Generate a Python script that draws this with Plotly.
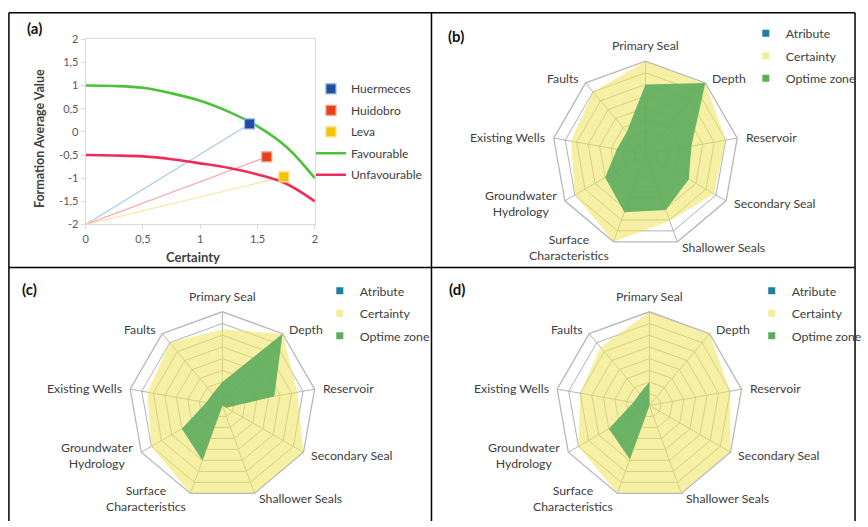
import math
import plotly.graph_objects as go

W, H = 868, 527
FONT = "Lato"

# ---------- panel (a): certainty vs formation average value ----------
curve_x = [0, 0.25, 0.5, 0.75, 1.0, 1.25, 1.5, 1.75, 2.0]
favourable_y = [1.0, 0.99, 0.95, 0.83, 0.67, 0.43, 0.12, -0.32, -1.0]
unfavourable_y = [-0.5, -0.51, -0.53, -0.59, -0.68, -0.78, -0.92, -1.12, -1.5]

formations = ["Huermeces", "Huidobro", "Leva"]
formation_certainty = [1.43, 1.58, 1.73]
formation_value = [0.17, -0.54, -0.97]
formation_fill = ["#1F4E9A", "#E8401C", "#F5C400"]
formation_edge = ["#8DB4E2", "#F4A582", "#FFE08A"]
connector_color = ["#A9CBE8", "#F6A5AE", "#FCE39A"]
origin_x, origin_y = 0.0, -2.0

y_ticks = [-2, -1.5, -1, -0.5, 0, 0.5, 1, 1.5, 2]
y_tick_text = ["-2", "-1,5", "-1", "-0,5", "0", "0,5", "1", "1,5", "2"]
x_ticks = [0, 0.5, 1, 1.5, 2]
x_tick_text = ["0", "0,5", "1", "1,5", "2"]

# ---------- panels (b), (c), (d): radar charts ----------
attributes = ["Primary Seal", "Depth", "Reservoir", "Secondary Seal",
              "Shallower Seals", "Surface<br>Characteristics",
              "Groundwater<br>Hydrology", "Existing Wells", "Faults"]

certainty_b = [2.0, 2.0, 1.5, 1.4, 1.05, 2.0, 1.5, 1.25, 1.5]
optime_b = [1.0, 2.0, 0.0, 0.15, 0.55, 0.65, 0.0, -0.75, -0.75]

certainty_c = [1.25, 2.0, 1.25, 2.0, 2.0, 2.0, 1.5, 1.25, 1.5]
optime_c = [-1.0, 2.0, 0.25, -1.8, -2.0, 0.5, 0.0, -1.3, -1.35]

certainty_d = [2.0, 2.0, 1.5, 2.0, 2.0, 2.0, 1.5, 1.0, 1.25]
optime_d = [-1.0, -2.0, -2.0, -2.0, -2.0, 0.45, 0.0, -1.3, -1.35]

atribute_vals = [-2.0] * 9

radar_series = ["Atribute", "Certainty", "Optime zone"]
radar_legend_color = ["#1F7F9F", "#F3EE9A", "#5CAE5C"]

fig = go.Figure()


def px_x(v):
    return v / W


def px_y(v):
    return 1 - v / H


# connectors from the origin to each formation
for name, cx, cy, col in zip(formations, formation_certainty, formation_value, connector_color):
    fig.add_trace(go.Scatter(x=[origin_x, cx], y=[origin_y, cy], mode="lines",
                             line=dict(color=col, width=1.2), showlegend=False,
                             hoverinfo="skip", xaxis="x", yaxis="y"))

# favourable / unfavourable curves
fig.add_trace(go.Scatter(x=curve_x, y=favourable_y, mode="lines", name="Favourable",
                         line=dict(color="#4CC23A", width=2.6, shape="spline"),
                         legend="legend", legendgroup="fav", legendrank=4))
fig.add_trace(go.Scatter(x=curve_x, y=unfavourable_y, mode="lines", name="Unfavourable",
                         line=dict(color="#EF2D5A", width=2.6, shape="spline"),
                         legend="legend", legendgroup="unfav", legendrank=5))

for i, (name, cx, cy) in enumerate(zip(formations, formation_certainty, formation_value)):
    fig.add_trace(go.Scatter(x=[cx], y=[cy], mode="markers", name=name,
                             marker=dict(symbol="square", size=10, color=formation_fill[i],
                                         line=dict(color=formation_edge[i], width=1.2)),
                             legend="legend", legendgroup=name, legendrank=i + 1))

# radar panels: (subplot, legend, centre x, centre y, radius, certainty, optime)
radar_panels = [
    ("polar", "legend2", 653, 151, 95.5, certainty_b, optime_b),
    ("polar2", "legend3", 223, 408.5, 96, certainty_c, optime_c),
    ("polar3", "legend4", 657, 408.5, 96, certainty_d, optime_d),
]
for subplot, leg, _, _, _, cert, opt in radar_panels:
    theta = attributes + attributes[:1]
    fig.add_trace(go.Scatterpolar(r=cert + cert[:1], theta=theta, subplot=subplot,
                                  fill="toself", fillcolor="rgba(238,230,97,0.58)",
                                  mode="lines", line=dict(width=0), showlegend=False,
                                  hoverinfo="skip"))
    fig.add_trace(go.Scatterpolar(r=opt + opt[:1], theta=theta, subplot=subplot,
                                  fill="toself", fillcolor="rgba(88,170,92,0.87)",
                                  mode="lines", line=dict(width=0), showlegend=False,
                                  hoverinfo="skip"))
    fig.add_trace(go.Scatterpolar(r=atribute_vals + atribute_vals[:1], theta=theta,
                                  subplot=subplot, mode="lines",
                                  line=dict(width=0, color=radar_legend_color[0]),
                                  showlegend=False, hoverinfo="skip"))
    # legend entries
    for k, s in enumerate(radar_series):
        fig.add_trace(go.Scatterpolar(r=[None], theta=[None], subplot=subplot, name=s,
                                      mode="markers",
                                      marker=dict(symbol="square", size=7,
                                                  color=radar_legend_color[k]),
                                      legend=leg, legendgroup=f"{leg}{k}"))


def polar_layout(cx, cy, rad):
    return dict(
        domain=dict(x=[px_x(cx - rad), px_x(cx + rad)], y=[px_y(cy + rad), px_y(cy - rad)]),
        gridshape="linear",
        bgcolor="white",
        radialaxis=dict(range=[-2, 2], tick0=-2, dtick=0.5, showticklabels=False,
                        ticks="", showline=False, gridcolor="#B4B4B4", gridwidth=1),
        angularaxis=dict(rotation=90, direction="clockwise", showline=True,
                         linecolor="#B8B8B8", linewidth=1.3, gridcolor="#B4B4B4",
                         ticks="", showticklabels=False),
    )


legend_common = dict(bgcolor="rgba(0,0,0,0)", borderwidth=0, traceorder="grouped",
                     xanchor="left", yanchor="top", itemclick=False)
radar_legend_font = dict(family=FONT, size=12.3, color="#404040")

fig.update_layout(
    width=W, height=H,
    margin=dict(l=0, r=0, t=0, b=0),
    paper_bgcolor="white", plot_bgcolor="white",
    font=dict(family=FONT, color="#404040"),
    xaxis=dict(domain=[px_x(84), px_x(317)], range=[0, 2], tickvals=x_ticks,
               ticktext=x_tick_text, showgrid=False, zeroline=False, showline=True,
               mirror=True, linecolor="#D9D9D9", ticks="outside", ticklen=4,
               tickcolor="#D9D9D9", tickfont=dict(family=FONT, size=11, color="#595959")),
    yaxis=dict(domain=[px_y(223), px_y(33)], range=[-2, 2], tickvals=y_ticks,
               ticktext=y_tick_text, showgrid=False, zeroline=False, showline=True,
               mirror=True, linecolor="#D9D9D9", ticks="outside", ticklen=4,
               tickcolor="#D9D9D9", tickfont=dict(family=FONT, size=11, color="#595959")),
    polar=polar_layout(653, 151, 95.5),
    polar2=polar_layout(223, 408.5, 96),
    polar3=polar_layout(657, 408.5, 96),
    legend=dict(x=px_x(313), y=px_y(69), tracegroupgap=2.5,
                font=dict(family=FONT, size=12, color="#404040"), **legend_common),
    legend2=dict(x=px_x(755), y=px_y(12), tracegroupgap=3.5, font=radar_legend_font,
                 **legend_common),
    legend3=dict(x=px_x(322), y=px_y(276), tracegroupgap=3.5, font=radar_legend_font,
                 **legend_common),
    legend4=dict(x=px_x(761), y=px_y(276), tracegroupgap=3.5, font=radar_legend_font,
                 **legend_common),
)

# category labels placed just outside each vertex of the radar polygons
label_pad = 6
for _, _, cx, cy, rad, _, _ in radar_panels:
    n = len(attributes)
    for i, lab in enumerate(attributes):
        ang = 2 * math.pi * i / n
        sx, cyv = math.sin(ang), math.cos(ang)
        lx = cx + (rad + label_pad) * sx
        ly = cy - (rad + label_pad) * cyv
        if sx > 0.1:
            xa, ya = "left", "middle"
        elif sx < -0.1:
            xa, ya = "right", "middle"
        else:
            xa, ya = "center", "bottom"
        fig.add_annotation(text=lab, xref="paper", yref="paper", x=px_x(lx), y=px_y(ly),
                           xanchor=xa, yanchor=ya, showarrow=False, align="center",
                           font=dict(family=FONT, size=12.3, color="#404040"))

# panel letters and axis titles
letters = [("(a)", 22, 22), ("(b)", 450, 30), ("(c)", 17, 289), ("(d)", 451, 289)]
for txt, lx, ly in letters:
    fig.add_annotation(text=f"<b>{txt}</b>", xref="paper", yref="paper",
                       x=px_x(lx), y=px_y(ly), xanchor="left", yanchor="middle",
                       showarrow=False, font=dict(family=FONT, size=15, color="#111111"))

fig.add_annotation(text="<b>Formation Average Value</b>", xref="paper", yref="paper",
                   x=px_x(37), y=px_y(135), xanchor="center", yanchor="middle",
                   textangle=-90, showarrow=False,
                   font=dict(family=FONT, size=12.5, color="#404040"))
fig.add_annotation(text="<b>Certainty</b>", xref="paper", yref="paper",
                   x=px_x(193), y=px_y(256), xanchor="center", yanchor="middle",
                   showarrow=False, font=dict(family=FONT, size=13, color="#404040"))

# panel frame lines
frame = [
    (6, 6, 866, 6), (6, 6, 6, 527), (866, 6, 866, 527),
    (435.5, 6, 435.5, 527), (6, 267, 866, 267),
]
for x0, y0, x1, y1 in frame:
    fig.add_shape(type="line", xref="paper", yref="paper",
                  x0=px_x(x0), y0=px_y(y0), x1=px_x(x1), y1=px_y(y1),
                  line=dict(color="#000000", width=1.5))

fig.write_html("out.html")
